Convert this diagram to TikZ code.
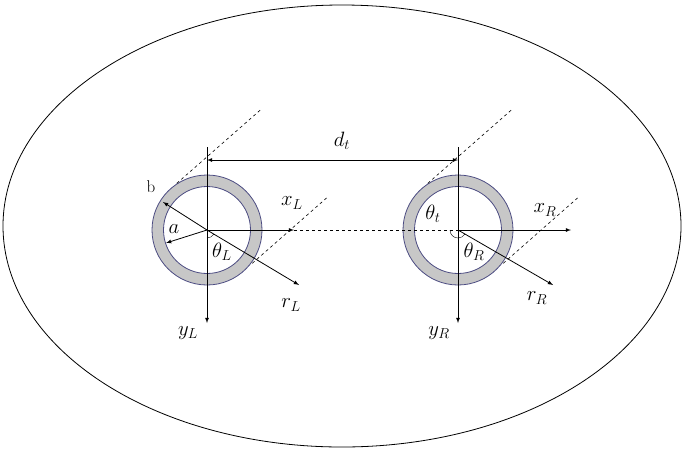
\documentclass[tikz,border=0pt]{standalone}
\usepackage{amsmath}
\usetikzlibrary{calc}
\tikzset{lbl/.style={font=\fontsize{22}{24}\selectfont},
  ring/.style={draw=blue!30!black!70,fill=black!22,line width=0.8pt},
  tang/.style={dashed,line width=0.6pt}}
\begin{document}
\begin{tikzpicture}[x=1pt,y=-1pt,>= latex]
        \useasboundingbox (0,0) rectangle (685,451);
        \draw[line width=0.8pt] (342,226) ellipse [x radius=339,y radius=221];
        % tubes
        \coordinate (cl) at (207,230);
        \coordinate (cr) at (458,230);
        \foreach \c in {cl,cr}{
          \path[ring,even odd rule] (\c) circle (55) (\c) circle (43.5);
          \draw[tang] ($(\c)+(-36.3,-41.3)+(6,-5.3)$) -- ($(\c)+(-36.3,-41.3)+(90,-79)$);
          \draw[tang] ($(\c)+(36.3,41.3)+(9,-8)$) -- ($(\c)+(36.3,41.3)+(84,-74)$);
        }
        % left axes
        \coordinate (ylend) at (207,323);
        \draw[thick,->] (207,147) -- (ylend);
        \node[lbl] (yl) at (188,333){$y_L$};
        \draw[thick,->] (cl) -- (294,230);
        \coordinate (rlend) at (299,285);
        \draw[thick,->] (cl) -- (rlend);
        \node[lbl] (rl) at (291,305){$r_L$};
        \coordinate (bend) at (163,202);
        \draw[thick,->] (cl) -- (bend);
        \node[font=\fontsize{17}{19}\selectfont] (b) at (151,187){b};
        \coordinate (aend) at (166,243);
        \draw[thick,->] (cl) -- (aend);
        \draw (207,238) arc (90:31:8);
        \node[lbl] (a) at (174,229){$a$};
        \node[lbl] (xl) at (292,203){$x_L$};
        \node[lbl] (tl) at (222,252){$\theta_L$};
        % right axes
        \coordinate (yrend) at (458,323);
        \draw[thick,->] (458,147) -- (yrend);
        \node[lbl] (yr) at (439,333){$y_R$};
        \draw[thick,->] (cr) -- (571,230);
        \coordinate (rrend) at (553,285);
        \draw[thick,->] (cr) -- (rrend);
        \node[lbl] (rr) at (537,298){$r_R$};
        \draw[thick,dashed] (294,230) -- (cr);
        \draw (458,238) arc (90:31:8);
        \draw (450,230) arc (180:90:8);
        \node[lbl] (tt) at (433,214){$\theta_t$};
        \node[lbl] (xr) at (545,210){$x_R$};
        \node[lbl] (tr) at (474,252){$\theta_R$};
        % distance
        \draw[thick,<->] (207,160) -- (458,160);
        \node[lbl] (dt) at (342,141){$d_t$};
      \end{tikzpicture}
\end{document}
